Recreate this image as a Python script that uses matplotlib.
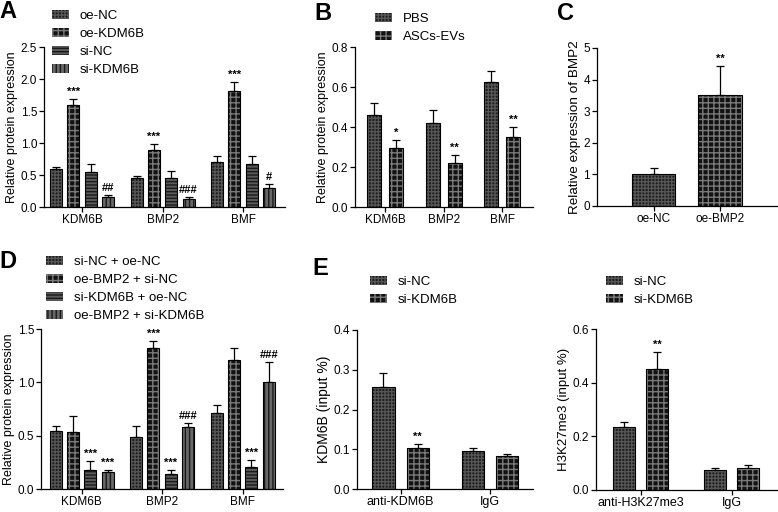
import numpy as np
import matplotlib
matplotlib.use('Agg')
import matplotlib.pyplot as plt
from matplotlib.patches import Patch

plt.rcParams['font.family'] = ['Liberation Sans', 'DejaVu Sans']
plt.rcParams['hatch.linewidth'] = 1.0
plt.rcParams['axes.linewidth'] = 0.9

# panel A
a_groups = ['KDM6B', 'BMP2', 'BMF']
a_series = ['oe-NC', 'oe-KDM6B', 'si-NC', 'si-KDM6B']
a_vals = [[0.59, 0.45, 0.70],
          [1.59, 0.89, 1.82],
          [0.55, 0.46, 0.67],
          [0.16, 0.125, 0.30]]
a_err = [[0.04, 0.03, 0.09],
         [0.10, 0.10, 0.14],
         [0.12, 0.10, 0.13],
         [0.02, 0.025, 0.06]]
a_sig = [['', '', ''],
         ['***', '***', '***'],
         ['', '', ''],
         ['##', '###', '#']]

# panel B
b_groups = ['KDM6B', 'BMP2', 'BMF']
b_series = ['PBS', 'ASCs-EVs']
b_vals = [[0.46, 0.418, 0.625],
          [0.295, 0.222, 0.352]]
b_err = [[0.06, 0.065, 0.055],
         [0.042, 0.038, 0.048]]
b_sig = [['', '', ''],
         ['*', '**', '**']]

# panel C
c_groups = ['oe-NC', 'oe-BMP2']
c_vals = [1.0, 3.52]
c_err = [0.2, 0.9]
c_sig = ['', '**']

# panel D
d_groups = ['KDM6B', 'BMP2', 'BMF']
d_series = ['si-NC + oe-NC', 'oe-BMP2 + si-NC', 'si-KDM6B + oe-NC', 'oe-BMP2 + si-KDM6B']
d_vals = [[0.547, 0.484, 0.71],
          [0.534, 1.32, 1.21],
          [0.175, 0.138, 0.21],
          [0.163, 0.584, 1.0]]
d_err = [[0.043, 0.11, 0.074],
         [0.15, 0.07, 0.115],
         [0.09, 0.042, 0.06],
         [0.012, 0.038, 0.19]]
d_sig = [['', '', ''],
         ['', '***', ''],
         ['***', '***', '***'],
         ['***', '###', '###']]

# panel E
e_series = ['si-NC', 'si-KDM6B']
e1_groups = ['anti-KDM6B', 'IgG']
e1_vals = [[0.256, 0.095],
           [0.104, 0.084]]
e1_err = [[0.036, 0.008],
          [0.010, 0.005]]
e1_sig = [['', ''], ['**', '']]
e2_groups = ['anti-H3K27me3', 'IgG']
e2_vals = [[0.234, 0.076],
           [0.451, 0.081]]
e2_err = [[0.019, 0.007],
          [0.065, 0.013]]
e2_sig = [['', ''], ['**', '']]

# bar styles: face, hatch, hatch colour
styles = [('#1b1b1b', '+++++', '#555555'),
          ('#121212', '+++', '#7a7a7a'),
          ('#5a5a5a', '-----', '#1a1a1a'),
          ('#686868', '||||', '#1a1a1a')]

TICK = 8.5
LAB = 9
W, H = 778, 512
fig = plt.figure(figsize=(7.78, 5.12), dpi=100)


def make_ax(l, r, b, t):
    ax = fig.add_axes([l / W, 1 - b / H, (r - l) / W, (b - t) / H])
    for s in ['top', 'right']:
        ax.spines[s].set_visible(False)
    ax.tick_params(direction='out', length=3.5, width=0.9, labelsize=TICK, pad=1.5)
    return ax


def draw_bars(ax, x, vals, errs, style, width, sigs=None):
    face, hatch, hc = styles[style]
    ax.bar(x, vals, width, color=face, edgecolor=hc, hatch=hatch, linewidth=0, zorder=2)
    ax.bar(x, vals, width, fill=False, edgecolor='black', linewidth=0.8, zorder=3)
    ax.errorbar(x, vals, yerr=[np.zeros(len(vals)), errs], fmt='none', ecolor='black',
                elinewidth=0.9, capsize=3, capthick=0.9, zorder=1)
    if sigs is not None:
        for xi, v, e, s in zip(x, vals, errs, sigs):
            if s:
                ax.annotate(s, (xi, v + e), xytext=(0, 1.5), textcoords='offset points',
                            ha='center', va='bottom', fontsize=8, fontweight='bold')


def legend(ax, labels, st, x, y):
    hs = [Patch(facecolor=styles[i][0], edgecolor=styles[i][2], hatch=styles[i][1], linewidth=0)
          for i in st]
    ax.legend(hs, labels, loc='upper left', bbox_to_anchor=(x / W, 1 - y / H),
              bbox_transform=fig.transFigure, frameon=False, fontsize=9.5,
              handlelength=1.3, handleheight=0.65, handletextpad=0.8,
              labelspacing=0.45, borderpad=0, borderaxespad=0)


def grouped(ax, groups, vals, errs, sigs, st, width, step):
    n = len(vals)
    xs = np.arange(len(groups))
    for i in range(n):
        off = (i - (n - 1) / 2) * step
        draw_bars(ax, xs + off, vals[i], errs[i], st[i], width, sigs[i])
    ax.set_xticks(xs)
    ax.set_xticklabels(groups, fontsize=TICK)


def letter(x, y, s):
    fig.text(x / W, 1 - y / H, s, fontsize=17, fontweight='bold', va='top', ha='left')


# A
ax = make_ax(44, 285, 207, 47)
grouped(ax, a_groups, a_vals, a_err, a_sig, [0, 1, 2, 3], 0.149, 0.215)
ax.set_xlim(-0.472, 2.52)
ax.set_ylim(0, 2.5)
ax.set_yticks([0, 0.5, 1.0, 1.5, 2.0, 2.5])
ax.set_yticklabels(['0.0', '0.5', '1.0', '1.5', '2.0', '2.5'])
ax.set_ylabel('Relative protein expression', fontsize=LAB, labelpad=2)
legend(ax, a_series, [0, 1, 2, 3], 52, 10)
letter(-1, 0, 'A')

# B
ax = make_ax(355, 533, 207, 47)
grouped(ax, b_groups, b_vals, b_err, b_sig, [0, 1], 0.238, 0.374)
ax.set_xlim(-0.51, 2.52)
ax.set_ylim(0, 0.8)
ax.set_yticks([0, 0.2, 0.4, 0.6, 0.8])
ax.set_yticklabels(['0.0', '0.2', '0.4', '0.6', '0.8'])
ax.set_ylabel('Relative protein expression', fontsize=LAB, labelpad=2)
legend(ax, b_series, [0, 1], 375, 13)
letter(314, 2, 'B')

# C
ax = make_ax(597, 778, 206, 48)
xs = np.arange(len(c_groups))
for i in range(len(c_groups)):
    draw_bars(ax, [xs[i]], [c_vals[i]], [c_err[i]], i, 0.65, [c_sig[i]])
ax.set_xticks(xs)
ax.set_xticklabels(c_groups, fontsize=TICK)
ax.set_xlim(-0.85, 1.87)
ax.set_ylim(0, 5)
ax.set_yticks([0, 1, 2, 3, 4, 5])
ax.set_ylabel('Relative expression of BMP2', fontsize=9.7, labelpad=2)
letter(557, 2, 'C')

# D
ax = make_ax(41, 283, 489, 329)
grouped(ax, d_groups, d_vals, d_err, d_sig, [0, 1, 2, 3], 0.149, 0.215)
ax.set_xlim(-0.503, 2.50)
ax.set_ylim(0, 1.5)
ax.set_yticks([0, 0.5, 1.0, 1.5])
ax.set_yticklabels(['0.0', '0.5', '1.0', '1.5'])
ax.set_ylabel('Relative protein expression', fontsize=LAB, labelpad=2)
legend(ax, d_series, [0, 1, 2, 3], 46, 256)
letter(-1, 250, 'D')

# E left
ax = make_ax(357, 533, 489, 330)
grouped(ax, e1_groups, e1_vals, e1_err, e1_sig, [0, 1], 0.246, 0.38)
ax.set_xticklabels(e1_groups, fontsize=9)
ax.set_xlim(-0.486, 1.48)
ax.set_ylim(0, 0.4)
ax.set_yticks([0, 0.1, 0.2, 0.3, 0.4])
ax.set_yticklabels(['0.0', '0.1', '0.2', '0.3', '0.4'])
ax.set_ylabel('KDM6B (input %)', fontsize=10, labelpad=2)
legend(ax, e_series, [0, 1], 370, 276)
letter(312, 257, 'E')

# E right
ax = make_ax(596, 778, 490, 329)
grouped(ax, e2_groups, e2_vals, e2_err, e2_sig, [0, 1], 0.24, 0.36)
ax.set_xticklabels(e2_groups, fontsize=9)
ax.set_xlim(-0.489, 1.51)
ax.set_ylim(0, 0.6)
ax.set_yticks([0, 0.2, 0.4, 0.6])
ax.set_yticklabels(['0.0', '0.2', '0.4', '0.6'])
ax.set_ylabel('H3K27me3 (input %)', fontsize=9.5, labelpad=2)
legend(ax, e_series, [0, 1], 606, 276)

fig.savefig('out.png', dpi=100)
